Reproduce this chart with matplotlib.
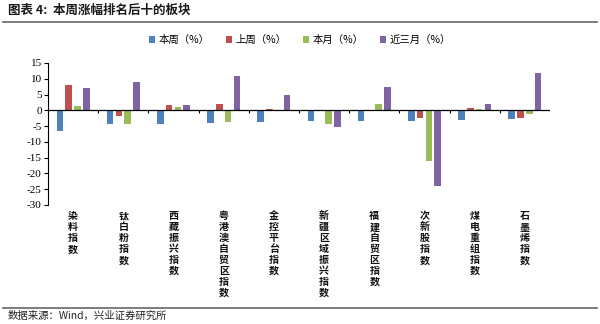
import matplotlib
matplotlib.use("Agg")
import matplotlib.pyplot as plt
import numpy as np
from matplotlib.patches import Patch
from matplotlib.lines import Line2D

categories = ["染料指数", "钛白粉指数", "西藏振兴指数", "粤港澳自贸区指数", "金控平台指数",
              "新疆区域振兴指数", "福建自贸区指数", "次新股指数", "煤电重组指数", "石墨烯指数"]
series_names = ["本周（%）", "上周（%）", "本月（%）", "近三月（%）"]
this_week = [-6.4, -4.2, -4.3, -3.9, -3.7, -3.5, -3.5, -3.3, -3.2, -2.7]
last_week = [7.9, -1.9, 1.7, 1.9, 0.3, 0.1, 0.1, -2.4, 0.6, -2.3]
this_month = [1.5, -4.3, 1.2, -3.8, 0.2, -4.4, 2.0, -16.1, 0.5, -1.3]
three_month = [7.1, 9.0, 1.7, 10.8, 5.0, -5.4, 7.4, -24.1, 2.0, 11.7]
y_ticks = [15, 10, 5, 0, -5, -10, -15, -20, -25, -30]

colors = ["#4F81BD", "#C0504D", "#9BBB59", "#8064A2"]
series = [this_week, last_week, this_month, three_month]

cjk = ["Noto Sans CJK SC", "DejaVu Sans"]
plt.rcParams['font.family'] = cjk

fig = plt.figure(figsize=(6, 3.24), dpi=100)
ax = fig.add_axes([48/600, (324-205)/324, (550-48)/600, 142/324])

x = np.arange(len(categories))
w = 0.13
step = 0.175
for k, (vals, c) in enumerate(zip(series, colors)):
    ax.bar(x + (k - 1.5) * step, vals, width=w, color=c, zorder=2)

ax.set_xlim(-0.5, len(categories) - 0.5)
ax.set_ylim(-30, 15)
ax.set_yticks(y_ticks)
ax.set_yticklabels([str(v) for v in y_ticks], family="Liberation Serif", fontsize=8)
ax.tick_params(axis='y', direction='out', length=3, width=0.8, pad=1.5, colors='black')
ax.set_xticks([])
for s in ["top", "right", "bottom"]:
    ax.spines[s].set_visible(False)
ax.spines["left"].set_linewidth(0.8)

# zero axis with boundary ticks
ax.axhline(0, color="black", lw=0.9, zorder=3)
bounds = np.arange(len(categories) + 1) - 0.5
ax.vlines(bounds[1:], -1.0, 0, color="black", lw=0.8, zorder=3)

# vertical category labels
trans = matplotlib.transforms.blended_transform_factory(ax.transData, ax.transAxes)
for i, name in enumerate(categories):
    ax.text(i, -0.045, "\n".join(name), transform=trans, ha="center", va="top",
            fontsize=7.2, fontweight="bold", linespacing=1.12, color="#111111")

# legend
handles = [Patch(facecolor=c, edgecolor='none') for c in colors]
fig.legend(handles, series_names, loc="center", bbox_to_anchor=(0.5, 1 - 40/324), ncol=4,
           frameon=False, handlelength=0.6, handleheight=0.6,
           handletextpad=0.3, columnspacing=1.6, prop={'family': cjk, 'size': 7.5})

# title and lines
fig.text(8/600, 1 - 10/324, "图表 4:  本周涨幅排名后十的板块", ha="left", va="center",
         fontsize=9, fontweight="bold", color="#1a1a1a")
fig.add_artist(Line2D([0.005, 0.995], [1 - 22/324, 1 - 22/324], color="#666666", lw=1.2))
fig.add_artist(Line2D([0.005, 0.995], [1 - 308/324, 1 - 308/324], color="#666666", lw=1.2))
fig.text(8/600, 1 - 316/324, "数据来源：Wind，兴业证券研究所", ha="left", va="center",
         fontsize=7.5, color="#222222")

fig.savefig("out.png", dpi=100, facecolor="white")
